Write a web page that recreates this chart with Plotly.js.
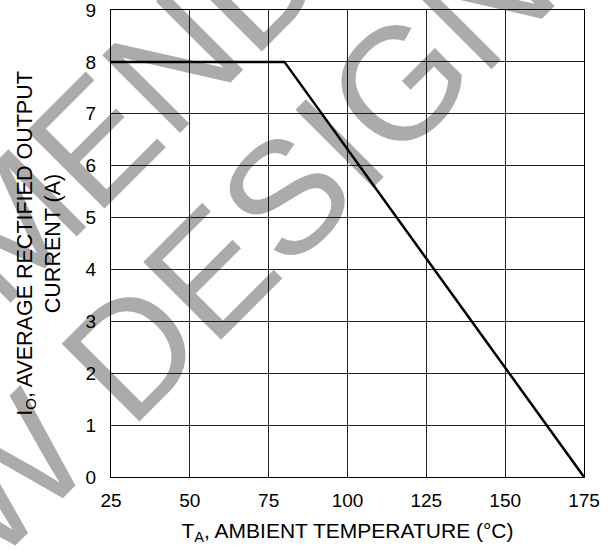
<!DOCTYPE html>
<html>
<head>
<meta charset="utf-8">
<script src="https://cdn.plot.ly/plotly-3.0.1.min.js"></script>
<style>html,body{margin:0;padding:0;background:#fff;}</style>
</head>
<body>
<div id="chart" style="width:611px;height:550px;"></div>
<script>
// Derating curve: ambient temperature (°C) vs average rectified output current (A)
const temperature = [25, 80, 175];
const current = [8, 8, 0];

const xTicks = [25, 50, 75, 100, 125, 150, 175];
const yTicks = [0, 1, 2, 3, 4, 5, 6, 7, 8, 9];

const xTitle = 'T<sub>A</sub>, AMBIENT TEMPERATURE (°C)';
const yTitle = 'I<sub>O</sub>, AVERAGE RECTIFIED OUTPUT<br>CURRENT (A)';
const watermarkLines = ['NOT RECOMMENDED FOR', 'NEW DESIGN'];

const FONT = 'Liberation Sans, Arial, sans-serif';

const trace = {
  x: temperature,
  y: current,
  type: 'scatter',
  mode: 'lines',
  line: {color: '#000', width: 2.5},
  hoverinfo: 'skip',
  showlegend: false
};

const axisCommon = {
  showgrid: true,
  gridcolor: '#222',
  gridwidth: 1,
  showline: true,
  linecolor: '#000',
  linewidth: 1,
  mirror: true,
  zeroline: false,
  ticks: '',
  ticklabeloverflow: 'allow',
  tickfont: {family: FONT, size: 19, color: '#000'},
  fixedrange: true
};

const wmStyle = {
  xref: 'paper', yref: 'paper',
  xanchor: 'center', yanchor: 'middle',
  showarrow: false,
  textangle: -45,
  font: {family: FONT, size: 160, color: 'rgba(0,0,0,0.33)'},
  captureevents: false
};
const wmPos = [[-0.2410, 0.5139], [0.1036, 0.3298]];

const layout = {
  width: 611,
  height: 550,
  margin: {l: 111, r: 27, t: 10, b: 73, pad: 0},
  paper_bgcolor: '#fff',
  plot_bgcolor: '#fff',
  font: {family: FONT, color: '#000'},
  xaxis: Object.assign({}, axisCommon, {
    range: [25, 175],
    tickmode: 'array',
    tickvals: xTicks,
    ticktext: xTicks.map(String),
    ticklabelstandoff: 6,
    title: {text: xTitle, font: {family: FONT, size: 21, color: '#000'}, standoff: 13}
  }),
  yaxis: Object.assign({}, axisCommon, {
    range: [0, 9],
    tickmode: 'array',
    tickvals: yTicks,
    ticktext: yTicks.map(String),
    ticklabelstandoff: 10,
    title: {text: yTitle, font: {family: FONT, size: 21.5, color: '#000'}, standoff: 19}
  }),
  annotations: watermarkLines.map((t, i) => Object.assign({}, wmStyle, {
    text: t, x: wmPos[i][0], y: wmPos[i][1]
  }))
};

Plotly.newPlot('chart', [trace], layout, {staticPlot: true, displayModeBar: false});
</script>
</body>
</html>
